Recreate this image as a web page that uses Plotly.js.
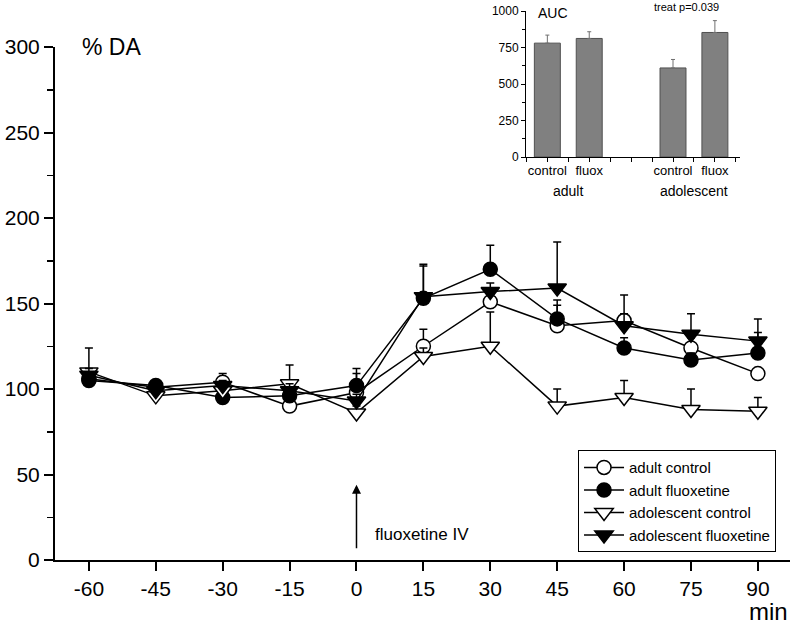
<!DOCTYPE html>
<html>
<head>
<meta charset="utf-8">
<script src="https://cdn.plot.ly/plotly-3.0.1.min.js"></script>
<style>html,body{margin:0;padding:0;background:#fff;}#chart{width:792px;height:629px;}</style>
</head>
<body>
<div id="chart"></div>
<script>
// ---- main time course data ----
const minutes = [-60, -45, -30, -15, 0, 15, 30, 45, 60, 75, 90];
const adultControl = [106, 101, 104, 90, 98, 125, 151, 137, 140, 124, 109];
const adultControlErr = [4, 3, 5, 4, 11, 10, 8, 12, 15, 6, 3];
const adultFluox = [105, 102, 95, 96, 102, 153, 170, 141, 124, 117, 121];
const adultFluoxErr = [3, 3, 3, 3, 10, 19, 14, 11, 6, 4, 12];
const adolControl = [110, 96, 99, 103, 86, 119, 125, 90, 95, 88, 87];
const adolControlErr = [14, 3, 3, 11, 4, 5, 20, 10, 10, 12, 8];
const adolFluox = [108, 99, 102, 99, 93, 154, 157, 159, 137, 132, 128];
const adolFluoxErr = [4, 3, 3, 4, 4, 19, 5, 27, 7, 12, 13];
const seriesNames = ["adult control", "adult fluoxetine", "adolescent control", "adolescent fluoxetine"];

// ---- inset AUC data ----
const aucPos = [1, 2, 4, 5];
const aucLabels = ["control", "fluox", "control", "fluox"];
const aucValues = [780, 812, 610, 853];
const aucErr = [55, 46, 58, 81];
const groupLabels = ["adult", "adolescent"];
const groupPos = [1.5, 4.5];

const FONT = "Liberation Sans, Arial, sans-serif";

function series(name, y, err, symbol, fill, size) {
  return {
    type: "scatter", mode: "lines+markers", name: name,
    x: minutes, y: y, xaxis: "x", yaxis: "y",
    line: {color: "#000", width: 1.5},
    marker: {symbol: symbol, size: size, color: fill, line: {color: "#000", width: 1.5}},
    error_y: {type: "data", symmetric: false, array: err, arrayminus: err.map(() => 0),
              color: "#000", thickness: 1.5, width: 4}
  };
}

const traces = [
  series(seriesNames[0], adultControl, adultControlErr, "circle", "#fff", 14),
  series(seriesNames[1], adultFluox, adultFluoxErr, "circle", "#000", 14),
  series(seriesNames[2], adolControl, adolControlErr, "triangle-down", "#fff", 16),
  series(seriesNames[3], adolFluox, adolFluoxErr, "triangle-down", "#000", 16),
  {
    type: "bar", x: aucPos, y: aucValues, xaxis: "x2", yaxis: "y2", width: 0.62,
    showlegend: false,
    marker: {color: "#808080", line: {color: "#505050", width: 1}},
    error_y: {type: "data", symmetric: false, array: aucErr, arrayminus: aucErr.map(() => 0),
              color: "#707070", thickness: 1, width: 2}
  }
];

const layout = {
  width: 792, height: 629,
  margin: {l: 55, r: 2, t: 11, b: 69},
  paper_bgcolor: "#fff", plot_bgcolor: "rgba(0,0,0,0)",
  font: {family: FONT, color: "#000"},
  showlegend: true,
  legend: {
    x: 0.7116, y: 0.2, xanchor: "left", yanchor: "top",
    bordercolor: "#000", borderwidth: 1, bgcolor: "#fff",
    font: {family: FONT, size: 15, color: "#000"},
    tracegroupgap: 0, itemwidth: 40
  },
  xaxis: {
    domain: [0, 1], range: [-67.6, 97.2], tickvals: minutes, ticktext: minutes.map(String),
    showgrid: false, zeroline: false, showline: true, linecolor: "#000", linewidth: 2,
    ticks: "outside", ticklen: 9, tickwidth: 2, tickcolor: "#000",
    tickfont: {family: FONT, size: 21, color: "#000"}, anchor: "y"
  },
  yaxis: {
    domain: [0, 0.9344], range: [0, 300], tickvals: [0, 50, 100, 150, 200, 250, 300],
    showgrid: false, zeroline: false, showline: true, linecolor: "#000", linewidth: 2,
    ticks: "outside", ticklen: 9, tickwidth: 2, tickcolor: "#000",
    minor: {tickvals: [25, 75, 125, 175, 225, 275], ticks: "outside", ticklen: 6, tickwidth: 1.5, tickcolor: "#000"},
    tickfont: {family: FONT, size: 21, color: "#000"}, anchor: "x"
  },
  xaxis2: {
    domain: [0.6408, 0.932], range: [0.49, 5.6], anchor: "y2",
    tickvals: aucPos, ticktext: aucLabels,
    showgrid: false, zeroline: false, showline: true, linecolor: "#000", linewidth: 1,
    ticks: "outside", ticklen: 4, tickwidth: 1, tickcolor: "#000",
    minor: {tickvals: [0.5, 1.5, 2.5, 3, 3.5, 4.5, 5.5], ticks: "outside", ticklen: 4, tickwidth: 1, tickcolor: "#000"},
    tickfont: {family: FONT, size: 13, color: "#000"}, ticklabelstandoff: -3
  },
  yaxis2: {
    domain: [0.734, 1], range: [0, 1000], anchor: "x2",
    tickvals: [0, 250, 500, 750, 1000],
    showgrid: false, zeroline: false, showline: true, linecolor: "#000", linewidth: 1,
    ticks: "outside", ticklen: 4, tickwidth: 1, tickcolor: "#000",
    minor: {tickvals: [125, 375, 625, 875], ticks: "outside", ticklen: 3, tickwidth: 1, tickcolor: "#000"},
    tickfont: {family: FONT, size: 12, color: "#000"}
  },
  annotations: [
    {text: "% DA", xref: "paper", yref: "paper", x: 0.034, y: 0.935, xanchor: "left", yanchor: "middle",
     showarrow: false, font: {family: FONT, size: 23, color: "#000"}},
    {text: "min", xref: "paper", yref: "paper", x: 1.0, y: -0.093, xanchor: "right", yanchor: "middle",
     showarrow: false, font: {family: FONT, size: 24, color: "#000"}},
    {text: "", xref: "x", yref: "y", x: 0, y: 44, ax: 0, ay: 6, axref: "x", ayref: "y",
     showarrow: true, arrowhead: 2, arrowsize: 1.2, arrowwidth: 1.5, arrowcolor: "#000"},
    {text: "fluoxetine IV", xref: "x", yref: "y", x: 3.6, y: 15, xanchor: "left", yanchor: "middle",
     showarrow: false, font: {family: FONT, size: 17, color: "#000"}},
    {text: "AUC", xref: "x2", yref: "y2", x: 0.72, y: 985, xanchor: "left", yanchor: "middle",
     showarrow: false, font: {family: FONT, size: 14, color: "#000"}},
    {text: "treat p=0.039", xref: "x2", yref: "paper", x: 4.33, y: 1.007, xanchor: "center", yanchor: "middle",
     showarrow: false, font: {family: FONT, size: 11, color: "#000"}},
    {text: groupLabels[0], xref: "x2", yref: "paper", x: groupPos[0], y: 0.672, xanchor: "center", yanchor: "middle",
     showarrow: false, font: {family: FONT, size: 14, color: "#000"}},
    {text: groupLabels[1], xref: "x2", yref: "paper", x: groupPos[1], y: 0.672, xanchor: "center", yanchor: "middle",
     showarrow: false, font: {family: FONT, size: 14, color: "#000"}}
  ]
};

Plotly.newPlot("chart", traces, layout, {displayModeBar: false, staticPlot: true});
</script>
</body>
</html>
